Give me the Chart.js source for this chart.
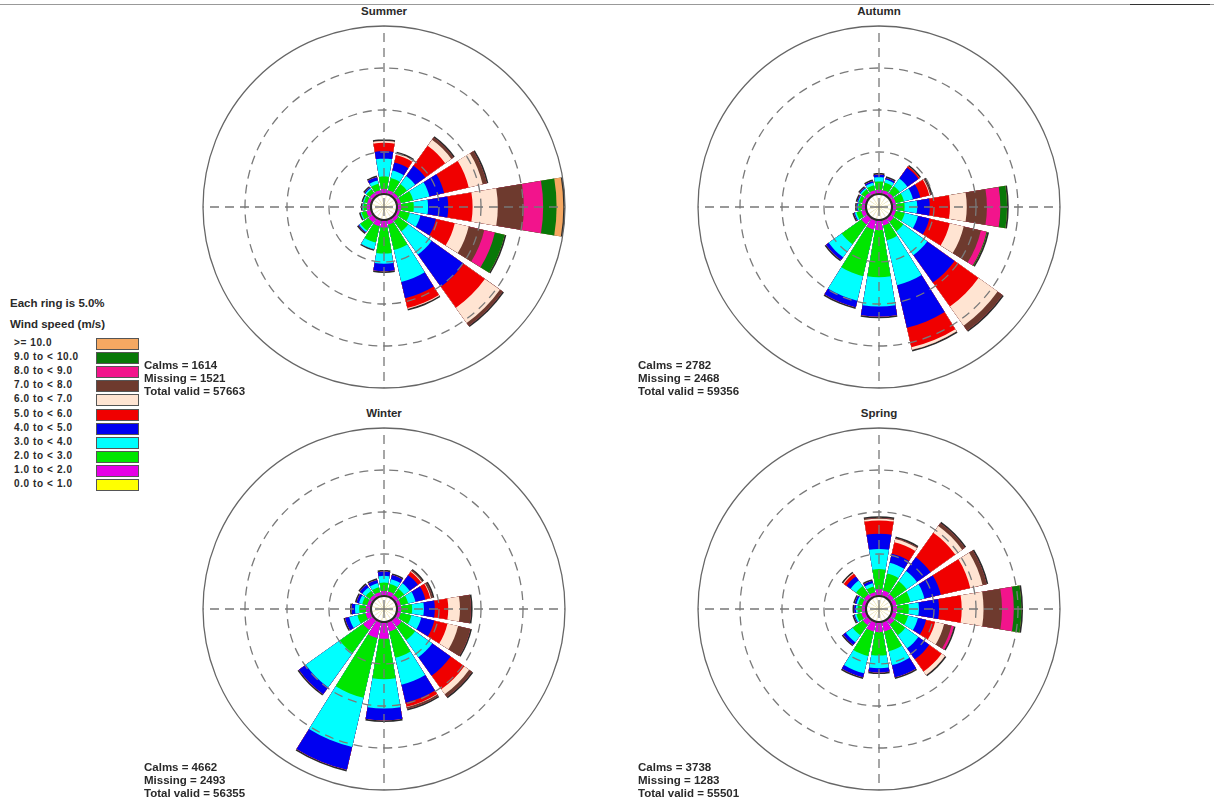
<!DOCTYPE html>
<html>
<head>
<meta charset="utf-8">
<script src="https://cdn.jsdelivr.net/npm/chart.js@4/dist/chart.umd.min.js"></script>
<style>
	body{ margin:0; background:#fff; font-family:"Liberation Sans", Arial, sans-serif; color:#2a2a2a; }
	#page{ position:relative; width:1214px; height:807px; overflow:hidden; }
	canvas{ position:absolute; }
	.txt{ position:absolute; font-weight:bold; white-space:nowrap; }
	.title{ font-size:11.5px; width:100px; text-align:center; }
	.stat{ font-size:11.5px; line-height:13px; }
	.leg{ font-size:10px; letter-spacing:0.6px; }
	.box{ position:absolute; width:41px; height:10px; border:1px solid #555; }
</style>
</head>
<body>
<div id="page">
	<div style="position:absolute;left:0;top:4px;width:1214px;height:1px;background:#999"></div>
	<div style="position:absolute;left:1130px;top:4px;width:80px;height:1px;background:#333"></div>

	<canvas id="cSummer" width="366" height="366" style="left:201px;top:24px"></canvas>
	<canvas id="cAutumn" width="366" height="366" style="left:696px;top:24px"></canvas>
	<canvas id="cWinter" width="366" height="366" style="left:201px;top:426px"></canvas>
	<canvas id="cSpring" width="366" height="366" style="left:696px;top:426px"></canvas>

	<div id="textos"></div>
</div>
<script>
// 16 wind directions, clockwise from north
const DIRECTIONS = ['N','NNE','NE','ENE','E','ESE','SE','SSE','S','SSW','SW','WSW','W','WNW','NW','NNW'];

// speed classes, slowest first
const SPEED_CLASSES = ['0.0 to < 1.0','1.0 to < 2.0','2.0 to < 3.0','3.0 to < 4.0','4.0 to < 5.0','5.0 to < 6.0',
	'6.0 to < 7.0','7.0 to < 8.0','8.0 to < 9.0','9.0 to < 10.0','>= 10.0'];
const CLASS_COLORS = ['#ffff00','#e600e6','#00e600','#00ffff','#0000f0','#f00000',
	'#ffe4d2','#6e3a2e','#f2148c','#087808','#f5a862'];

const RINGS = [0, 5, 10, 15, 20];

// frequency (%) per speed class (rows) and direction (columns)
const SUMMER = [
	[.1,.1,.1,.1,.1,.1,.1,.1,.1,.1,.1,.1,.1,.1,.1,.1],
	[.5,.4,.4,.4,.4,.3,.4,.5,.8,.7,.6,.5,.4,.4,.4,.4],
	[1.5,1.5,1.3,1.5,1.5,1.2,1.5,3.1,3.1,2.0,1.2,.6,.4,.4,.5,.8],
	[2.1,.9,1.2,2.0,1.7,1.3,3.4,3.9,1.2,.8,.2,.1,.1,.1,.2,.4],
	[.9,1.0,1.5,1.8,2.4,1.9,4.7,2.0,.9,0,.1,0,0,0,.1,.4],
	[1.0,.9,2.9,3.0,2.9,2.3,3.1,1.2,0,0,0,0,0,0,0,0],
	[.2,.2,.9,1.7,3.0,1.7,2.2,.1,0,0,0,0,0,0,0,0],
	[0,0,.3,.5,3.1,1.9,.4,0,0,0,0,0,0,0,0,0],
	[0,0,0,0,2.3,1.3,0,0,0,0,0,0,0,0,0,0],
	[0,0,0,0,1.6,1.2,0,0,0,0,0,0,0,0,0,0],
	[0,0,0,0,.8,0,0,0,0,0,0,0,0,0,0,0]
];
const AUTUMN = [
	[.1,.1,.1,.1,.1,.1,.1,.1,.1,.1,.1,.1,.1,.1,.1,.1],
	[.4,.4,.4,.4,.4,.4,.5,.6,1.1,1.1,.9,.5,.4,.4,.4,.4],
	[1.0,.9,1.0,1.0,1.0,1.1,1.4,1.8,5.6,5.7,2.9,.6,.4,.4,.5,.6],
	[.5,.4,1.1,1.1,1.5,1.6,3.5,5.5,3.5,3.0,1.9,.2,.1,.1,.2,.3],
	[.3,.2,1.6,.9,1.5,1.4,4.0,5.2,1.2,.8,.4,.1,.1,.1,.1,.2],
	[0,0,.2,1.1,2.4,2.5,3.5,2.4,0,0,0,0,0,0,0,0],
	[0,0,0,.1,2.0,1.7,2.8,.3,0,0,0,0,0,0,0,0],
	[0,0,0,.1,2.4,2.1,.7,0,0,0,0,0,0,0,0,0],
	[0,0,0,0,1.6,.7,0,0,0,0,0,0,0,0,0,0],
	[0,0,0,0,.8,.1,0,0,0,0,0,0,0,0,0,0],
	[0,0,0,0,0,0,0,0,0,0,0,0,0,0,0,0]
];
const WINTER = [
	[.1,.1,.1,.1,.1,.1,.1,.1,.1,.1,.1,.1,.1,.1,.1,.1],
	[.5,.5,.4,.4,.4,.4,.9,1.1,1.9,1.9,1.4,.6,.5,.4,.4,.4],
	[1.0,.9,.9,.9,1.3,1.3,2.0,3.2,4.8,7.3,3.4,1.0,.8,.6,.6,.6],
	[.8,.6,.8,.9,1.4,1.2,2.5,3.3,3.5,6.0,5.0,1.0,.5,.4,.5,.5],
	[.5,.5,1.2,1.2,1.3,1.6,2.7,2.2,1.4,2.8,1.0,.5,.4,.3,.4,.4],
	[0,0,.5,.6,1.6,1.6,2.0,.5,0,0,0,0,0,0,0,0],
	[0,0,.1,.1,1.4,1.3,.7,.05,0,0,0,0,0,0,0,0],
	[0,0,.1,.2,1.3,1.5,.4,.2,0,0,0,0,0,0,0,0],
	[0,0,0,0,0,0,0,0,0,0,0,0,0,0,0,0],
	[0,0,0,0,0,0,0,0,0,0,0,0,0,0,0,0],
	[0,0,0,0,0,0,0,0,0,0,0,0,0,0,0,0]
];
const SPRING = [
	[.1,.1,.1,.1,.1,.1,.1,.1,.1,.1,.1,.1,.1,.1,.1,.1],
	[.7,.6,.5,.5,.5,.5,.6,1.1,1.1,1.1,.7,.5,.4,.4,.5,.4],
	[2.4,2.1,1.9,1.7,1.4,1.4,1.6,2.4,2.8,3.0,1.5,.6,.5,.5,1.2,.7],
	[2.4,1.3,1.5,1.7,1.2,1.2,1.9,1.7,1.5,2.1,1.0,.2,.2,.2,.8,.4],
	[1.8,1.1,2.0,2.0,2.4,1.0,1.6,1.5,.5,.5,.4,.1,.2,.2,.6,.3],
	[1.6,1.4,3.6,3.6,2.7,1.1,1.8,0,0,0,0,0,0,0,.4,0],
	[.2,.4,1.0,1.5,2.6,1.1,.5,0,0,0,0,0,0,0,.1,0],
	[.1,.1,.4,.5,2.2,.9,0,0,0,0,0,0,0,0,0,0],
	[0,0,0,0,1.4,.3,0,0,0,0,0,0,0,0,0,0],
	[0,0,0,0,.9,0,0,0,0,0,0,0,0,0,0,0],
	[0,0,0,0,0,0,0,0,0,0,0,0,0,0,0,0]
];

const SEASONS = ['Summer','Autumn','Winter','Spring'];
const CALMS = [1614, 2782, 4662, 3738];
const MISSING = [1521, 2468, 2493, 1283];
const TOTAL_VALID = [57663, 59356, 56355, 55501];

const BAR = 19;           // degrees of each petal
const GAP = 22.5 - BAR;   // white gap between petals

// the N petal is split in two halves so the sequence starts at 0 degrees
function expandir(vals){
	let out = [vals[0]];
	for(let i = 1; i < vals.length; i++){ out.push(0, vals[i]); }
	out.push(0, vals[0]);
	return out;
}
let ANGULOS = [BAR/2];
for(let i = 1; i < DIRECTIONS.length; i++){ ANGULOS.push(GAP, BAR); }
ANGULOS.push(GAP, BAR/2);

function rosa(id, filas){
	let acum = new Array(DIRECTIONS.length).fill(0);
	let capas = [];
	for(let k = 0; k < filas.length; k++){
		acum = acum.map((v, i) => v + filas[k][i]);
		capas.push(acum.slice());
	}
	let datasets = [];
	// calm circle (drawn on top)
	datasets.push({
		data: expandir(new Array(DIRECTIONS.length).fill(0)),
		backgroundColor: '#ffffff'
	});
	for(let k = 0; k < capas.length; k++){
		let color = CLASS_COLORS[k];
		datasets.push({
			data: expandir(capas[k]),
			backgroundColor: (c) => c.dataIndex % 2 ? 'rgba(0,0,0,0)' : color
		});
	}
	// thin dark edge at the tip of each petal
	datasets.push({
		data: expandir(acum.map(v => v + 0.2)),
		backgroundColor: (c) => c.dataIndex % 2 ? 'rgba(0,0,0,0)' : '#2a2a2a'
	});

	new Chart(document.getElementById(id).getContext('2d'), {
		type: 'polarArea',
		data: {
			labels: ['N','E','S','W'],
			datasets: datasets
		},
		options: {
			responsive: false,
			animation: false,
			events: [],
			layout: { padding: 2 },
			elements: { arc: { borderWidth: 0, angle: (c) => ANGULOS[c.dataIndex] } },
			plugins: { legend: { display: false }, tooltip: { enabled: false } },
			scales: {
				r: {
					min: -1.55,
					max: 20,
					startAngle: 0,
					afterBuildTicks: (s) => { s.ticks = RINGS.map(v => ({ value: v })); },
					ticks: { display: false },
					pointLabels: { display: false },
					grid: {
						circular: true,
						z: 1,
						color: (c) => c.tick.value === 0 ? '#2a2a2a' : (c.tick.value === 20 ? '#666' : '#7a7a7a'),
						lineWidth: (c) => c.tick.value === 0 ? 2.2 : 1.3
					},
					border: {
						dash: (c) => (c.tick && (c.tick.value === 0 || c.tick.value === 20)) ? [] : [9, 6]
					},
					angleLines: { display: true, color: '#777', lineWidth: 1.3, borderDash: [9, 6] }
				}
			}
		}
	});
}

rosa('cSummer', SUMMER);
rosa('cAutumn', AUTUMN);
rosa('cWinter', WINTER);
rosa('cSpring', SPRING);

// textos
let html = '';
const centrosX = [384, 879, 384, 879];
const titulosY = [5, 5, 407, 407];
const statX = [144, 638, 144, 638];
const statY = [359, 359, 761, 761];
for(let s = 0; s < SEASONS.length; s++){
	html += '<div class="txt title" style="left:' + (centrosX[s] - 50) + 'px;top:' + titulosY[s] + 'px">' + SEASONS[s] + '</div>';
	html += '<div class="txt stat" style="left:' + statX[s] + 'px;top:' + statY[s] + 'px">Calms = ' + CALMS[s] +
		'<br>Missing = ' + MISSING[s] + '<br>Total valid = ' + TOTAL_VALID[s] + '</div>';
}
html += '<div class="txt stat" style="left:10px;top:297px">Each ring is 5.0%</div>';
html += '<div class="txt stat" style="left:10px;top:318px">Wind speed (m/s)</div>';
for(let k = SPEED_CLASSES.length - 1, j = 0; k >= 0; k--, j++){
	let y = 338 + j * 14.1;
	html += '<div class="txt leg" style="left:14px;top:' + (y - 1) + 'px">' + SPEED_CLASSES[k].replace(/</g, '&lt;').replace(/>/g, '&gt;') + '</div>';
	html += '<div class="box" style="left:96px;top:' + y + 'px;background:' + CLASS_COLORS[k] + '"></div>';
}
document.getElementById('textos').innerHTML = html;
</script>
</body>
</html>
